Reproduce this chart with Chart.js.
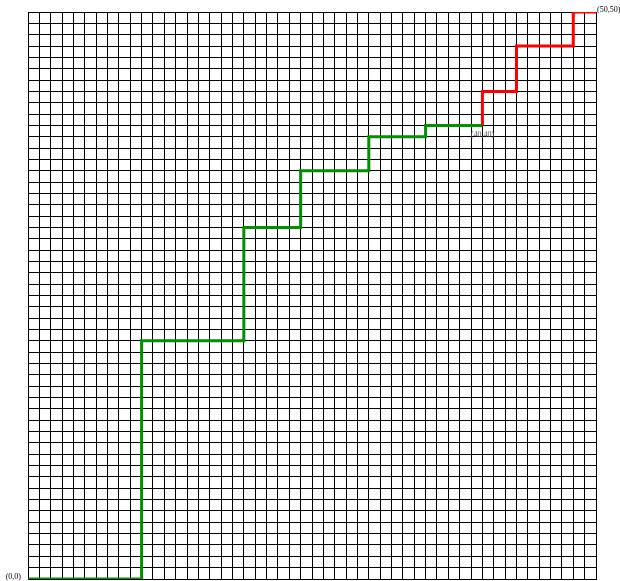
<!DOCTYPE html>
<html>
<head>
<meta charset="utf-8">
<script src="https://cdn.jsdelivr.net/npm/chart.js@4/dist/chart.umd.min.js"></script>
<style>
    html, body { margin: 0; padding: 0; background: #fff; }
    #wrap { width: 620px; height: 581px; }
</style>
</head>
<body>
<div id="wrap"><canvas id="pathChart"></canvas></div>
<script>
// corner points of the two path segments
const greenX = [0, 10, 10, 19, 19, 24, 24, 30, 30, 35, 35, 40];
const greenY = [0, 0, 21, 21, 31, 31, 36, 36, 39, 39, 40, 40];
const redX = [40, 40, 43, 43, 48, 48, 50];
const redY = [40, 43, 43, 47, 47, 50, 50];

const gridMin = 0;
const gridMax = 50;

// point labels: [x, y, text]
const pointLabels = [
    [0, 0, '(0,0)'],
    [40, 40, '(40,40)'],
    [50, 50, '(50,50)']
];

const toPoints = (xs, ys) => xs.map((x, i) => ({ x: x, y: ys[i] }));

const labelPlugin = {
    id: 'pointLabels',
    afterDatasetsDraw(chart) {
        const ctx = chart.ctx;
        const xs = chart.scales.x;
        const ys = chart.scales.y;
        ctx.save();
        ctx.font = '8px "Liberation Serif", serif';
        ctx.textBaseline = 'middle';
        pointLabels.forEach(([x, y, text]) => {
            const px = xs.getPixelForValue(x);
            const py = ys.getPixelForValue(y);
            if (x === gridMin) {
                ctx.fillStyle = '#000';
                ctx.textAlign = 'right';
                ctx.fillText(text, px - 7, py - 2);
            } else if (x === gridMax) {
                ctx.fillStyle = '#000';
                ctx.textAlign = 'left';
                ctx.fillText(text, px + 1, py - 2);
            } else {
                ctx.fillStyle = '#555';
                ctx.textAlign = 'center';
                ctx.fillText(text, px, py + 10);
            }
        });
        ctx.restore();
    }
};

const gridOpts = {
    color: '#000',
    lineWidth: 1,
    drawTicks: false
};

new Chart(document.getElementById('pathChart'), {
    type: 'line',
    data: {
        datasets: [
            {
                data: toPoints(greenX, greenY),
                borderColor: '#009000',
                borderWidth: 3,
                pointRadius: 0,
                tension: 0,
                fill: false
            },
            {
                data: toPoints(redX, redY),
                borderColor: '#ff0000',
                borderWidth: 3,
                pointRadius: 0,
                tension: 0,
                fill: false
            }
        ]
    },
    options: {
        responsive: true,
        maintainAspectRatio: false,
        animation: false,
        layout: {
            padding: { left: 28, top: 12, right: 24, bottom: 2 }
        },
        plugins: {
            legend: { display: false },
            tooltip: { enabled: false }
        },
        scales: {
            x: {
                type: 'linear',
                min: gridMin,
                max: gridMax,
                ticks: { display: false, stepSize: 1 },
                grid: gridOpts,
                border: { color: '#000', width: 1 }
            },
            y: {
                type: 'linear',
                min: gridMin,
                max: gridMax,
                ticks: { display: false, stepSize: 1 },
                grid: gridOpts,
                border: { color: '#000', width: 1 }
            }
        }
    },
    plugins: [labelPlugin]
});
</script>
</body>
</html>
